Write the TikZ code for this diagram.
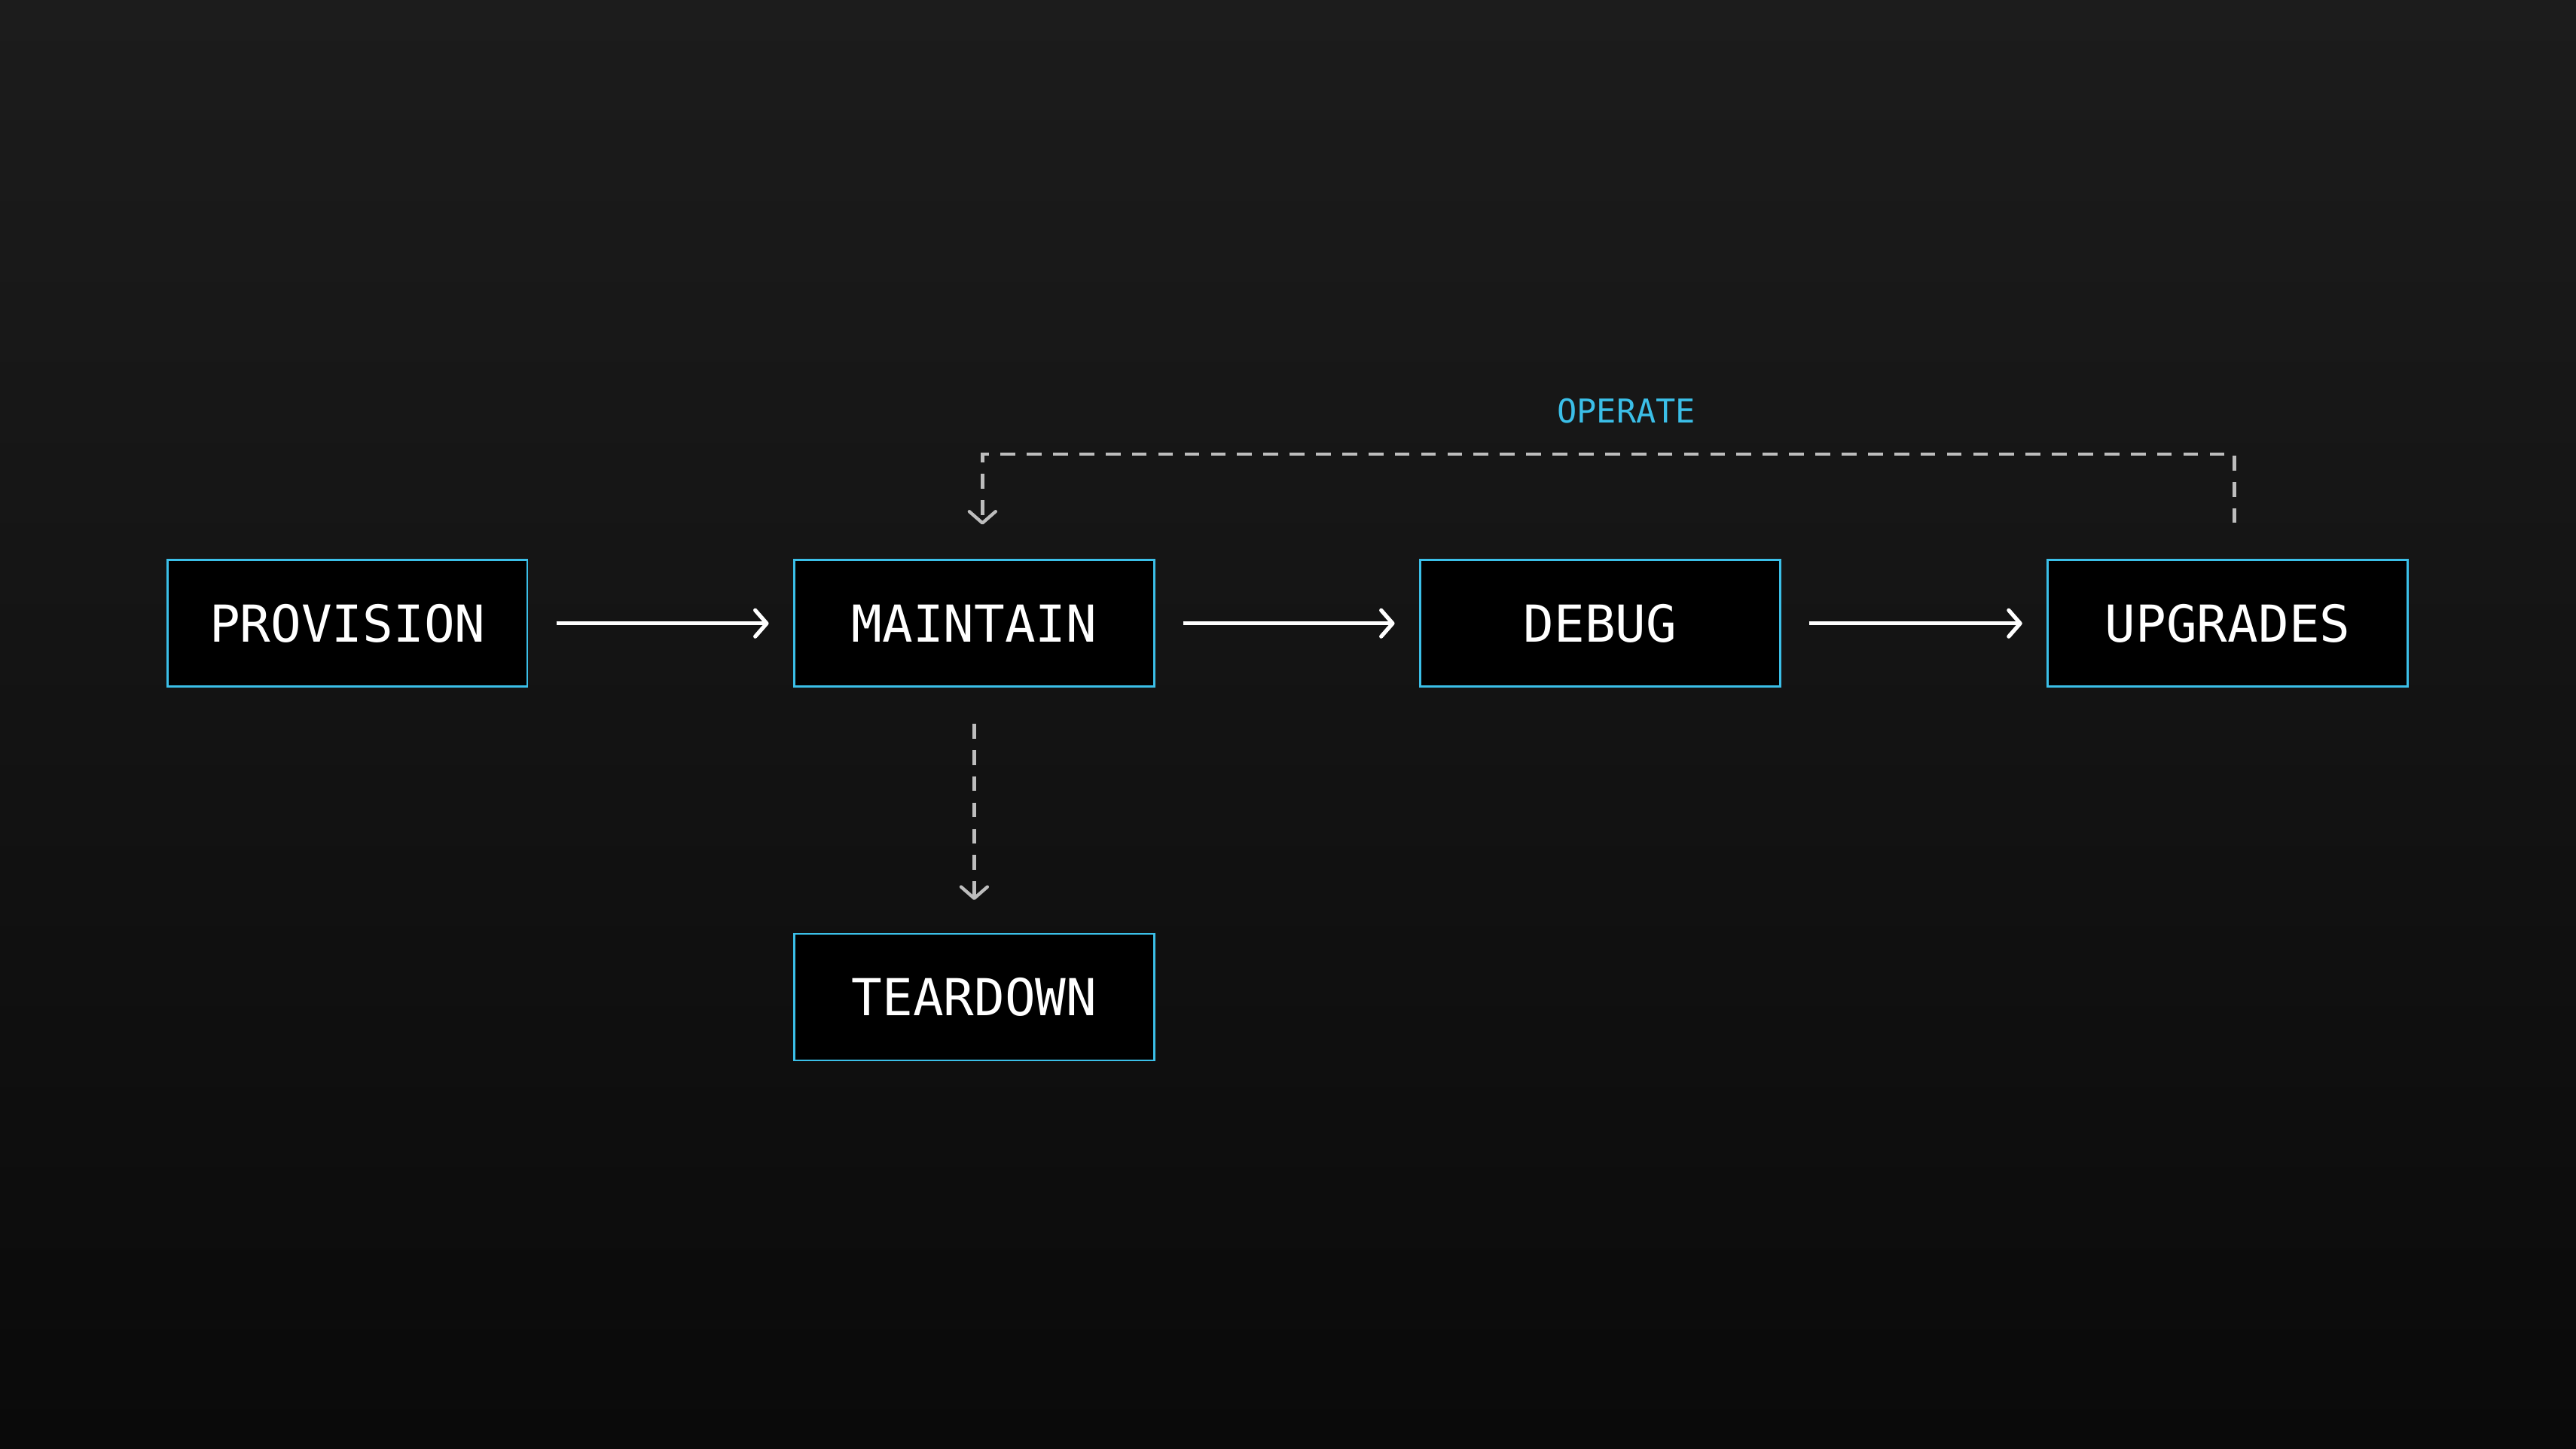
\documentclass[tikz,border=0pt]{standalone}
\usepackage{fontspec}
\setmonofont{DejaVu Sans Mono}
\usetikzlibrary{arrows.meta}
\definecolor{bordc}{HTML}{3BBFE8}
\definecolor{dashc}{HTML}{BDBDBD}
\definecolor{bgtop}{HTML}{1C1C1C}
\definecolor{bgbot}{HTML}{0A0A0A}
\tikzset{
  box/.style={draw=bordc,fill=black,line width=1.2pt,minimum width=219pt,minimum height=77pt,inner sep=0pt,text=white,font=\ttfamily\fontsize{31}{31}\selectfont},
  flow/.style={white,line width=2.4pt,-{Straight Barb[length=7pt,width=16pt,line width=2.4pt,round]}},
  dflow/.style={dashc,line width=2pt,dash pattern=on 9pt off 7pt,-{Straight Barb[length=7pt,width=16pt,line width=2pt,round]}},
}
\begin{document}
\begin{tikzpicture}[x=1pt,y=-1pt]
\shade[top color=bgtop,bottom color=bgbot] (0,0) rectangle (1568,882);
\useasboundingbox (0,0) rectangle (1568,882);
\node[box] (prov) at (211.5,379.5) {PROVISION};
\node[box] (main) at (593,379.5) {MAINTAIN};
\node[box] (debug) at (974,379.5) {DEBUG};
\node[box] (upg) at (1356,379.5) {UPGRADES};
\node[box] (tear) at (593,607) {TEARDOWN};
\node[text=bordc,font=\ttfamily\fontsize{20}{20}\selectfont] (op) at (990,250) {OPERATE};
\draw[flow] ([xshift=17pt]prov.east) -- ([xshift=-15pt]main.west);
\draw[flow] ([xshift=17pt]main.east) -- ([xshift=-15pt]debug.west);
\draw[flow] ([xshift=17pt]debug.east) -- ([xshift=-15pt]upg.west);
\draw[dflow] ([xshift=4pt,yshift=22pt]upg.north) -- ++(0,-42) -| ([xshift=5pt,yshift=21pt]main.north);
\draw[dflow] ([yshift=-22pt]main.south) -- ([yshift=20pt]tear.north);
\end{tikzpicture}
\end{document}
